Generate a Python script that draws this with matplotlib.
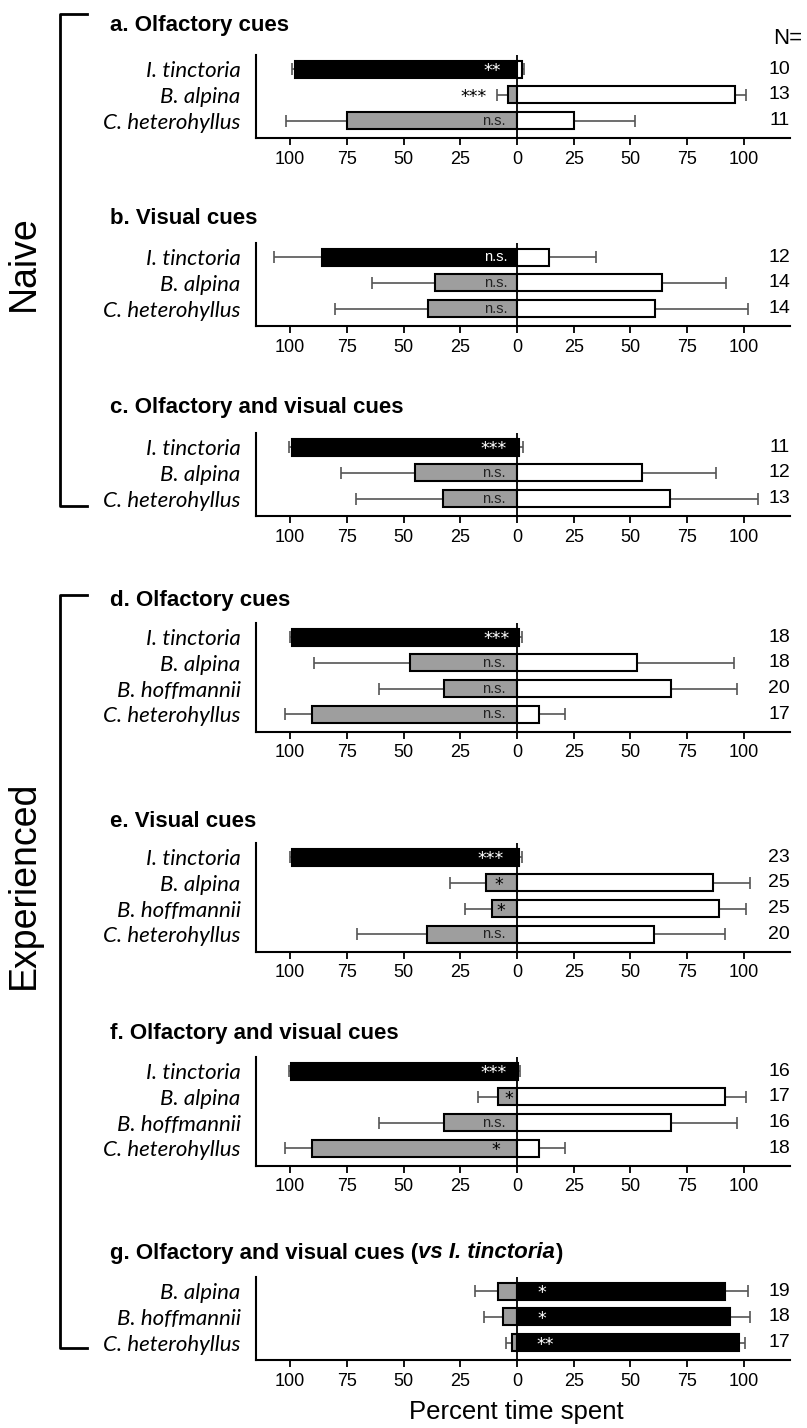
import matplotlib.pyplot as plt
from matplotlib.lines import Line2D
from matplotlib.transforms import blended_transform_factory

W, H = 807, 1428

sp3 = ['I. tinctoria', 'B. alpina', 'C. heterohyllus']
sp4 = ['I. tinctoria', 'B. alpina', 'B. hoffmannii', 'C. heterohyllus']

# percent time spent on the left-hand plant (the rest is on the right), SE, N
a_left = [98, 4, 75]
a_err = [1, 5, 27]
a_n = [10, 13, 11]
a_sig = ['**', '***', 'n.s.']

b_left = [86, 36, 39]
b_err = [21, 28, 41]
b_n = [12, 14, 14]
b_sig = ['n.s.', 'n.s.', 'n.s.']

c_left = [99, 45, 32.5]
c_err = [1.5, 32.5, 38.5]
c_n = [11, 12, 13]
c_sig = ['***', 'n.s.', 'n.s.']

d_left = [99, 47, 32, 90.5]
d_err = [1, 42.5, 29, 11.6]
d_n = [18, 18, 20, 17]
d_sig = ['***', 'n.s.', 'n.s.', 'n.s.']

e_left = [99, 13.5, 11, 39.5]
e_err = [1, 16, 12, 31]
e_n = [23, 25, 25, 20]
e_sig = ['***', '*', '*', 'n.s.']

f_left = [99.5, 8.3, 32, 90.5]
f_err = [0.8, 9, 29, 11.6]
f_n = [16, 17, 16, 18]
f_sig = ['***', '*', 'n.s.', '*']

g_species = ['B. alpina', 'B. hoffmannii', 'C. heterohyllus']
g_left = [8.3, 6, 2.2]
g_err = [10, 8.5, 2.8]
g_n = [19, 18, 17]
g_sig = ['*', '*', '**']

tick_vals = [-100, -75, -50, -25, 0, 25, 50, 75, 100]
tick_text = ['100', '75', '50', '25', '0', '25', '50', '75', '100']

GRAY = '#9e9e9e'
ERR = '#555555'
SANS = 'Liberation Sans'
ITAL = 'Lato'

# title, species, left, err, n, sig, sig x, sig colour, axes top (px), title y (px)
panels = [
    ('a. Olfactory cues', sp3, a_left, a_err, a_n, a_sig,
     [-11, -19, -10], ['white', 'black', '#222222'], 55, 26),
    ('b. Visual cues', sp3, b_left, b_err, b_n, b_sig,
     [-9.5, -9.5, -9.5], ['white', '#222222', '#222222'], 243, 219),
    ('c. Olfactory and visual cues', sp3, c_left, c_err, c_n, c_sig,
     [-10.5, -10, -10], ['white', '#222222', '#222222'], 433, 408),
    ('d. Olfactory cues', sp4, d_left, d_err, d_n, d_sig,
     [-9, -10, -10, -10], ['white', '#222222', '#222222', '#222222'], 623, 600),
    ('e. Visual cues', sp4, e_left, e_err, e_n, e_sig,
     [-11.5, -8, -7, -10], ['white', 'black', 'black', '#222222'], 843, 822),
    ('f. Olfactory and visual cues', sp4, f_left, f_err, f_n, f_sig,
     [-10.5, -3.6, -10, -9.5], ['white', 'black', '#222222', 'black'], 1057, 1033),
    (None, g_species, g_left, g_err, g_n, g_sig,
     [11, 11, 12.5], ['white', 'white', 'white'], 1277, 1253),
]

ROW = 25.7
X0, X1 = 256, 790

fig = plt.figure(figsize=(W / 100, H / 100), dpi=100)

for k, (title, species, left, err, n, sig, sig_x, sig_c, top, ty) in enumerate(panels):
    last = title is None
    rows = len(species)
    h = (rows - 1 + 1.23) * ROW
    ax = fig.add_axes([X0 / W, 1 - (top + h) / H, (X1 - X0) / W, h / H])
    y = list(range(rows))
    right = [100 - v for v in left]
    if last:
        lcol = [GRAY] * rows
        rcol = ['black'] * rows
    else:
        lcol = ['black'] + [GRAY] * (rows - 1)
        rcol = ['white'] * rows

    ax.barh(y, [-v for v in left], height=0.67, color=lcol,
            edgecolor='black', linewidth=1.5, zorder=3)
    ax.barh(y, right, height=0.67, color=rcol,
            edgecolor='black', linewidth=1.5, zorder=3)
    ax.errorbar([-v for v in left], y, xerr=[err, [0] * rows], fmt='none',
                ecolor=ERR, elinewidth=1.2, capsize=4, capthick=1.2, zorder=2)
    ax.errorbar(right, y, xerr=[[0] * rows, err], fmt='none',
                ecolor=ERR, elinewidth=1.2, capsize=4, capthick=1.2, zorder=2)
    ax.axvline(0, color='black', lw=1.3, zorder=5)

    for i in range(rows):
        if sig[i] == 'n.s.':
            ax.text(sig_x[i], y[i], sig[i], ha='center', va='center',
                    fontsize=10.5, family=SANS, color=sig_c[i], zorder=6)
        else:
            ax.text(sig_x[i], y[i] + 0.08, sig[i], ha='center', va='center',
                    fontsize=12.5, family='DejaVu Sans', color=sig_c[i], zorder=6)

    ax.set_xlim(-115, 120.3)
    ax.set_ylim(rows - 1 + 0.68, -0.55)
    ax.set_xticks(tick_vals)
    ax.set_xticklabels(tick_text, family=SANS, fontsize=13)
    ax.set_yticks(y)
    ax.set_yticklabels(species, family=ITAL, style='italic', fontsize=16)
    ax.tick_params(axis='y', length=0, pad=11)
    ax.tick_params(axis='x', length=5, width=1.3, pad=4)
    for s in ('top', 'right'):
        ax.spines[s].set_visible(False)
    for s in ('left', 'bottom'):
        ax.spines[s].set_linewidth(1.5)

    tr = blended_transform_factory(fig.transFigure, ax.transData)
    for i in range(rows):
        ax.text(X1 / W, y[i], str(n[i]), transform=tr, ha='right', va='center',
                family=SANS, fontsize=14)

    if title is not None:
        fig.text(110 / W, 1 - ty / H, title, ha='left', va='center',
                 family=SANS, fontweight='bold', fontsize=16)

# panel g title has an italic part
r = fig.canvas.get_renderer()
xg = 110 / W
yg = 1 - 1253 / H
for s, st in [('g. Olfactory and visual cues (', 'normal'),
              ('vs I. tinctoria', 'italic'), (')', 'normal')]:
    t = fig.text(xg, yg, s, ha='left', va='center', family=SANS,
                 fontweight='bold', fontstyle=st, fontsize=16)
    xg += t.get_window_extent(renderer=r).width / W

fig.text(788 / W, 1 - 39 / H, 'N=', ha='center', va='center',
         family=SANS, fontsize=16)

fig.text(516 / W, 1 - 1412 / H, 'Percent time spent', ha='center', va='center',
         family=SANS, fontsize=18.5)

# Naive / Experienced brackets
for y0, y1, label, ym in [(14, 506, 'Naive', 263), (595, 1348, 'Experienced', 885)]:
    xs = [87 / W, 60 / W, 60 / W, 87 / W]
    ys = [1 - y0 / H, 1 - y0 / H, 1 - y1 / H, 1 - y1 / H]
    fig.add_artist(Line2D(xs, ys, color='black', lw=2, transform=fig.transFigure))
    fig.text(24 / W, 1 - ym / H, label, rotation=90, ha='center', va='center',
             family=SANS, fontsize=27)

fig.savefig('out.png', dpi=100)
